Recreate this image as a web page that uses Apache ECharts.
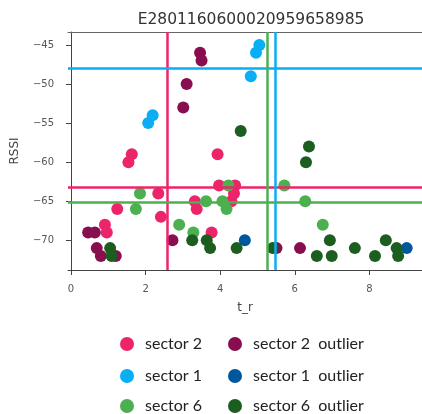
<!DOCTYPE html>
<html>
<head>
<meta charset="utf-8">
<script src="https://cdn.jsdelivr.net/npm/echarts@6/dist/echarts.min.js"></script>
<style>
	html, body { margin: 0; padding: 0; background: #fff; }
	#main { width: 422px; height: 414px; }
</style>
</head>
<body>
<div id="main"></div>
<script>
	// 数据 [t_r, RSSI]
	var sector2 = [ [1.63, -59], [1.54, -60], [3.93, -59], [0.91, -68], [0.96, -69], [1.24, -66], [2.34, -64], [2.41, -67],
		[3.32, -65], [3.37, -66], [3.77, -69], [3.97, -63], [4.4, -63], [4.37, -64], [4.3, -65] ];
	var sector1 = [ [2.19, -54], [2.07, -55], [5.05, -45], [4.96, -46], [4.82, -49] ];
	var sector6 = [ [1.85, -64], [1.74, -66], [2.9, -68], [3.28, -69], [3.62, -65], [4.06, -65], [4.17, -66], [4.22, -63],
		[5.72, -63], [6.28, -65], [6.75, -68] ];
	var sector2Out = [ [3.46, -46], [3.5, -47], [3.1, -50], [3.01, -53], [0.46, -69], [0.64, -69], [0.69, -71], [0.8, -72],
		[1.2, -72], [2.72, -70], [5.51, -71], [6.14, -71] ];
	var sector1Out = [ [4.66, -70], [9.0, -71] ];
	var sector6Out = [ [4.55, -56], [6.38, -58], [6.3, -60], [1.05, -71], [1.09, -72], [3.25, -70], [3.64, -70], [3.73, -71],
		[4.44, -71], [5.41, -71], [6.94, -70], [6.59, -72], [6.99, -72], [7.61, -71], [8.15, -72], [8.44, -70], [8.73, -71], [8.77, -72] ];

	// 参考线 (sector 2, sector 1, sector 6)
	var lineT = [ 2.57, 5.47, 5.27 ];
	var lineRssi = [ -63.17, -48.04, -65.13 ];

	var xTicks = [ 0, 2, 4, 6, 8 ];
	var yTicks = [ -70, -65, -60, -55, -50, -45 ];

	var legendNames = [ 'sector 2', 'sector 1', 'sector 6' ];
	var outlierNames = [ 'sector 2  outlier', 'sector 1  outlier', 'sector 6  outlier' ];

	var colors = {
		s2 : '#ec2469',
		s1 : '#0aaef4',
		s6 : '#4caf50',
		s2o : '#880e4f',
		s1o : '#01579b',
		s6o : '#1b5e20'
	};

	var myChart = echarts.init(document.getElementById('main'));

	var fmt = function(v) {
		return String(v).replace('-', '\u2212');
	};

	var scatter = function(name, data, color) {
		return {
			name : name,
			type : 'scatter',
			data : data,
			symbolSize : 12,
			itemStyle : { color : color, opacity : 1 },
			z : 2
		};
	};

	var refLine = function(t, r, color) {
		return {
			type : 'scatter',
			data : [],
			silent : true,
			z : 5,
			markLine : {
				silent : true,
				symbol : 'none',
				label : { show : false },
				lineStyle : { color : color, width : 2.5, type : 'solid' },
				data : [ { xAxis : t }, { yAxis : r } ],
				animation : false
			}
		};
	};

	// 图例: 每一项单独放
	var legendText = { fontFamily : 'Lato', fontSize : 16, color : '#222', padding : [ 0, 0, 0, 6 ] };
	var rowTops = [ 336, 368, 398 ];
	var legends = [];
	for (var i = 0; i < 3; i++) {
		legends.push({ data : [ legendNames[i] ], left : 120, top : rowTops[i], padding : 0, itemWidth : 14, itemHeight : 14,
			icon : 'circle', textStyle : legendText });
		legends.push({ data : [ outlierNames[i] ], left : 228, top : rowTops[i], padding : 0, itemWidth : 14, itemHeight : 14,
			icon : 'circle', textStyle : legendText });
	}

	var option = {
		animation : false,
		title : {
			text : 'E2801160600020959658985',
			left : 246,
			top : 7,
			textAlign : 'center',
			textStyle : { fontFamily : 'DejaVu Sans', fontSize : 15.5, fontWeight : 'normal', color : '#333' }
		},
		grid : { left : 68, right : 0, top : 32, bottom : 144 },
		xAxis : [ {
			type : 'value',
			min : -0.08,
			max : 9.41,
			name : 't_r',
			nameLocation : 'middle',
			nameGap : 32,
			nameTextStyle : { fontFamily : 'DejaVu Sans', fontSize : 12, color : '#444' },
			axisLine : { show : true, lineStyle : { color : '#444', width : 1 } },
			axisTick : { show : true, length : 5, customValues : xTicks, lineStyle : { color : '#444' } },
			axisLabel : { customValues : xTicks, margin : 14, fontFamily : 'DejaVu Sans', fontSize : 10, color : '#555' },
			splitLine : { show : false }
		}, {
			type : 'value',
			position : 'top',
			min : -0.08,
			max : 9.41,
			axisLine : { show : true, lineStyle : { color : '#666', width : 1 } },
			axisTick : { show : false },
			axisLabel : { show : false },
			splitLine : { show : false }
		} ],
		yAxis : {
			type : 'value',
			min : -73.8,
			max : -43.34,
			name : 'RSSI',
			nameLocation : 'middle',
			nameGap : 47,
			nameTextStyle : { fontFamily : 'DejaVu Sans', fontSize : 12, color : '#444' },
			axisLine : { show : true, lineStyle : { color : '#444', width : 1 } },
			axisTick : { show : true, length : 5, customValues : yTicks, lineStyle : { color : '#444' } },
			axisLabel : { customValues : yTicks, margin : 14, formatter : fmt, fontFamily : 'DejaVu Sans', fontSize : 10, color : '#555' },
			splitLine : { show : false }
		},
		legend : legends,
		series : [
			scatter(legendNames[0], sector2, colors.s2),
			scatter(legendNames[1], sector1, colors.s1),
			scatter(legendNames[2], sector6, colors.s6),
			scatter(outlierNames[0], sector2Out, colors.s2o),
			scatter(outlierNames[1], sector1Out, colors.s1o),
			scatter(outlierNames[2], sector6Out, colors.s6o),
			refLine(lineT[0], lineRssi[0], colors.s2),
			refLine(lineT[1], lineRssi[1], colors.s1),
			refLine(lineT[2], lineRssi[2], colors.s6)
		]
	};

	myChart.setOption(option);
</script>
</body>
</html>
